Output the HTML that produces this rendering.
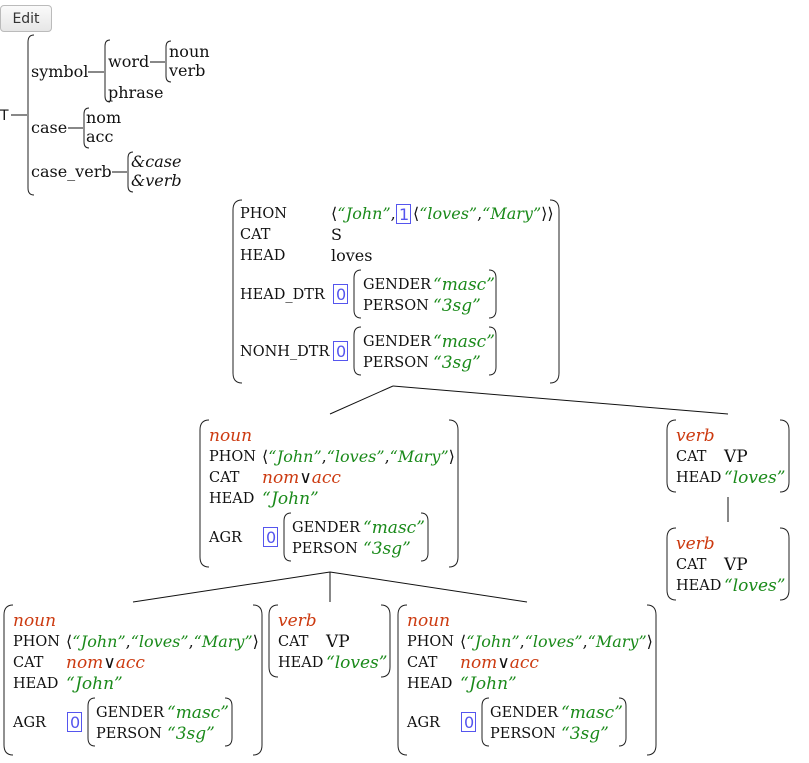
<!DOCTYPE html>
<html><head><meta charset="utf-8"><style>
body{margin:0;background:#fff;width:809px;height:763px;overflow:hidden}
svg{position:absolute;left:0;top:0}
.l{font:14.5px "DejaVu Serif",serif;fill:#111}
.v{font:16px "DejaVu Serif",serif;fill:#111}
.w{font-size:17px}
.h{font:16px "DejaVu Serif",serif;fill:#111}
.it{font-style:italic}
.g{fill:#1a8a1a;font-style:italic}
.r{fill:#cc3a10;font-style:italic}
.t{font:16px "DejaVu Sans",sans-serif;fill:#5555ee}
.br{fill:none;stroke:#222;stroke-width:1}
.tb{fill:none;stroke:#5555ee;stroke-width:1}
</style></head><body>
<div style="position:absolute;left:0;top:5px;width:52px;height:27px;border:1px solid #bbb;border-radius:4px;background:linear-gradient(#fafafa,#e6e6e6);font:14px 'DejaVu Sans',sans-serif;line-height:26px;text-align:center;color:#333;box-sizing:border-box">Edit</div>
<svg width="809" height="763" xmlns="http://www.w3.org/2000/svg">
<g>
<text x="0" y="120" style="font:14px 'DejaVu Sans',sans-serif;fill:#111">T</text>
<line x1="11" y1="115" x2="27" y2="115" stroke="#111"/>
<path class="br" d="M34,35 Q28,35 28,42 L28,188 Q28,195 34,195"/>
<text x="31" y="77" class="h">symbol</text>
<line x1="88" y1="72" x2="104" y2="72" stroke="#111"/>
<path class="br" d="M110,40 Q105,40 105,46 L105,96 Q105,102 110,102"/>
<text x="108" y="67" class="h">word</text>
<line x1="150" y1="62" x2="165" y2="62" stroke="#111"/>
<path class="br" d="M171,41 Q166,41 166,47 L166,76 Q166,82 171,82"/>
<text x="169" y="57" class="h">noun</text>
<text x="169" y="76" class="h">verb</text>
<text x="108" y="98" class="h">phrase</text>
<text x="31" y="133" class="h">case</text>
<line x1="68" y1="128" x2="83" y2="128" stroke="#111"/>
<path class="br" d="M89,108 Q84,108 84,114 L84,142 Q84,148 89,148"/>
<text x="86" y="123" class="h">nom</text>
<text x="86" y="142" class="h">acc</text>
<text x="31" y="177" class="h">case_verb</text>
<line x1="112" y1="172" x2="127" y2="172" stroke="#111"/>
<path class="br" d="M133,152 Q128,152 128,158 L128,186 Q128,192 133,192"/>
<text x="131" y="167" class="h it">&amp;case</text>
<text x="131" y="186" class="h it">&amp;verb</text>
</g>

<path class="br" d="M242,200 Q233,200 233,210 L233,373 Q233,383 242,383"/>
<path class="br" d="M550,200 Q559,200 559,210 L559,373 Q559,383 550,383"/>
<text x="240" y="218" class="l">PHON</text>
<text x="240" y="239" class="l">CAT</text>
<text x="240" y="260" class="l">HEAD</text>
<text x="240" y="299" class="l">HEAD_DTR</text>
<text x="240" y="356" class="l">NONH_DTR</text>
<text x="331" y="219" class="v">⟨<tspan class="g">“John”</tspan>,</text>
<rect class="tb" x="396.5" y="204.5" width="14" height="19"/>
<text x="399" y="220" class="t">1</text>
<text x="413" y="219" class="v">⟨<tspan class="g">“loves”</tspan>,<tspan class="g">“Mary”</tspan>⟩⟩</text>
<text x="331" y="240" class="v">S</text>
<text x="331" y="261" class="v">loves</text>
<rect class="tb" x="333.5" y="284.5" width="14" height="19"/>
<text x="336" y="300" class="t">0</text>
<path class="br" d="M361,270 Q354,270 354,278 L354,310 Q354,318 361,318"/>
<path class="br" d="M489,270 Q496,270 496,278 L496,310 Q496,318 489,318"/>
<text x="363" y="289" class="l">GENDER</text><text x="433" y="290" class="v w g">“masc”</text>
<text x="363" y="310" class="l">PERSON</text><text x="433" y="311" class="v w g">“3sg”</text>
<rect class="tb" x="333.5" y="341.5" width="14" height="19"/>
<text x="336" y="357" class="t">0</text>
<path class="br" d="M361,327 Q354,327 354,335 L354,367 Q354,375 361,375"/>
<path class="br" d="M489,327 Q496,327 496,335 L496,367 Q496,375 489,375"/>
<text x="363" y="346" class="l">GENDER</text><text x="433" y="347" class="v w g">“masc”</text>
<text x="363" y="367" class="l">PERSON</text><text x="433" y="368" class="v w g">“3sg”</text>

<g stroke="#111" stroke-width="1">
<line x1="393" y1="386" x2="330" y2="414"/>
<line x1="393" y1="386" x2="728" y2="414"/>
<line x1="728" y1="497" x2="728" y2="522"/>
<line x1="330" y1="572" x2="133" y2="602"/>
<line x1="330" y1="572" x2="330" y2="602"/>
<line x1="330" y1="572" x2="527" y2="602"/>
</g>

<g transform="translate(200,420)">
<path class="br" d="M9,0 Q0,0 0,10 L0,137 Q0,147 9,147"/>
<path class="br" d="M249,0 Q258,0 258,10 L258,137 Q258,147 249,147"/>
<text x="9" y="21" class="v w r">noun</text>
<text x="9" y="41" class="l">PHON</text><text x="62" y="42" class="v">⟨<tspan class="g">“John”</tspan>,<tspan class="g">“loves”</tspan>,<tspan class="g">“Mary”</tspan>⟩</text>
<text x="9" y="62" class="l">CAT</text><text x="62" y="63" class="v w"><tspan class="r">nom</tspan>∨<tspan class="r">acc</tspan></text>
<text x="9" y="83" class="l">HEAD</text><text x="62" y="84" class="v w g">“John”</text>
<text x="9" y="122" class="l">AGR</text>
<rect class="tb" x="63.5" y="107.5" width="14" height="19"/><text x="66" y="123" class="t">0</text>
<path class="br" d="M91,93 Q84,93 84,101 L84,133 Q84,141 91,141"/>
<path class="br" d="M221,93 Q228,93 228,101 L228,133 Q228,141 221,141"/>
<text x="92" y="112" class="l">GENDER</text><text x="163" y="113" class="v w g">“masc”</text>
<text x="92" y="133" class="l">PERSON</text><text x="163" y="134" class="v w g">“3sg”</text>
</g>

<g transform="translate(667,420)">
<path class="br" d="M9,0 Q0,0 0,10 L0,62 Q0,72 9,72"/>
<path class="br" d="M113,0 Q122,0 122,10 L122,62 Q122,72 113,72"/>
<text x="9" y="21" class="v w r">verb</text>
<text x="9" y="41" class="l">CAT</text><text x="57" y="42" class="v w">VP</text>
<text x="9" y="62" class="l">HEAD</text><text x="57" y="63" class="v w g">“loves”</text>
</g>
<g transform="translate(667,528)">
<path class="br" d="M9,0 Q0,0 0,10 L0,62 Q0,72 9,72"/>
<path class="br" d="M113,0 Q122,0 122,10 L122,62 Q122,72 113,72"/>
<text x="9" y="21" class="v w r">verb</text>
<text x="9" y="41" class="l">CAT</text><text x="57" y="42" class="v w">VP</text>
<text x="9" y="62" class="l">HEAD</text><text x="57" y="63" class="v w g">“loves”</text>
</g>
<g transform="translate(269,605)">
<path class="br" d="M9,0 Q0,0 0,10 L0,62 Q0,72 9,72"/>
<path class="br" d="M112,0 Q121,0 121,10 L121,62 Q121,72 112,72"/>
<text x="9" y="21" class="v w r">verb</text>
<text x="9" y="41" class="l">CAT</text><text x="57" y="42" class="v w">VP</text>
<text x="9" y="62" class="l">HEAD</text><text x="57" y="63" class="v w g">“loves”</text>
</g>

<g transform="translate(4,605)">
<path class="br" d="M9,0 Q0,0 0,10 L0,140 Q0,150 9,150"/>
<path class="br" d="M249,0 Q258,0 258,10 L258,140 Q258,150 249,150"/>
<text x="9" y="21" class="v w r">noun</text>
<text x="9" y="41" class="l">PHON</text><text x="62" y="42" class="v">⟨<tspan class="g">“John”</tspan>,<tspan class="g">“loves”</tspan>,<tspan class="g">“Mary”</tspan>⟩</text>
<text x="9" y="62" class="l">CAT</text><text x="62" y="63" class="v w"><tspan class="r">nom</tspan>∨<tspan class="r">acc</tspan></text>
<text x="9" y="83" class="l">HEAD</text><text x="62" y="84" class="v w g">“John”</text>
<text x="9" y="122" class="l">AGR</text>
<rect class="tb" x="63.5" y="107.5" width="14" height="19"/><text x="66" y="123" class="t">0</text>
<path class="br" d="M91,93 Q84,93 84,101 L84,133 Q84,141 91,141"/>
<path class="br" d="M221,93 Q228,93 228,101 L228,133 Q228,141 221,141"/>
<text x="92" y="112" class="l">GENDER</text><text x="163" y="113" class="v w g">“masc”</text>
<text x="92" y="133" class="l">PERSON</text><text x="163" y="134" class="v w g">“3sg”</text>
</g>
<g transform="translate(398,605)">
<path class="br" d="M9,0 Q0,0 0,10 L0,140 Q0,150 9,150"/>
<path class="br" d="M249,0 Q258,0 258,10 L258,140 Q258,150 249,150"/>
<text x="9" y="21" class="v w r">noun</text>
<text x="9" y="41" class="l">PHON</text><text x="62" y="42" class="v">⟨<tspan class="g">“John”</tspan>,<tspan class="g">“loves”</tspan>,<tspan class="g">“Mary”</tspan>⟩</text>
<text x="9" y="62" class="l">CAT</text><text x="62" y="63" class="v w"><tspan class="r">nom</tspan>∨<tspan class="r">acc</tspan></text>
<text x="9" y="83" class="l">HEAD</text><text x="62" y="84" class="v w g">“John”</text>
<text x="9" y="122" class="l">AGR</text>
<rect class="tb" x="63.5" y="107.5" width="14" height="19"/><text x="66" y="123" class="t">0</text>
<path class="br" d="M91,93 Q84,93 84,101 L84,133 Q84,141 91,141"/>
<path class="br" d="M221,93 Q228,93 228,101 L228,133 Q228,141 221,141"/>
<text x="92" y="112" class="l">GENDER</text><text x="163" y="113" class="v w g">“masc”</text>
<text x="92" y="133" class="l">PERSON</text><text x="163" y="134" class="v w g">“3sg”</text>
</g>
</svg>
</body></html>
